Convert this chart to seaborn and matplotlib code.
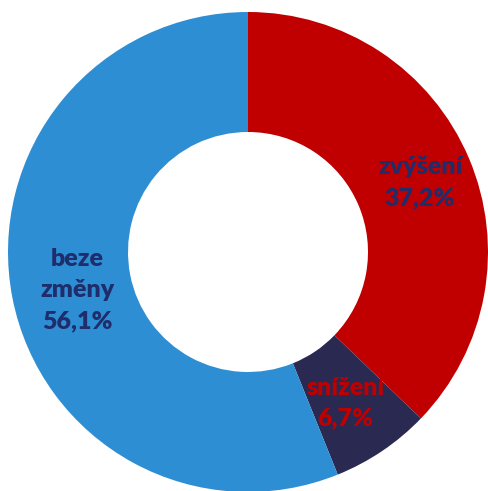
import matplotlib
matplotlib.use("Agg")
import matplotlib.pyplot as plt
import seaborn as sns

sns.set_theme(style="white")
plt.rcParams['font.family'] = ['Lato', 'DejaVu Sans']

categories = ["zvýšení", "snížení", "beze\nzměny"]
values = [37.2, 6.7, 56.1]
colors = ["#C00000", "#292952", "#2E8ED4"]
label_colors = ["#1F2D6B", "#C00000", "#1F2D6B"]
label_pos = [(0.717, 0.29), (0.405, -0.63), (-0.712, -0.158)]

fig = plt.figure(figsize=(4.88, 4.91), dpi=100)
ax = fig.add_axes([8 / 488, -1 / 491, 480 / 488, 480 / 491])

wedges, _ = ax.pie(values, colors=colors, startangle=90, counterclock=False,
                   radius=1.0, wedgeprops=dict(width=0.5, linewidth=0))

for cat, val, (x, y), c in zip(categories, values, label_pos, label_colors):
    txt = f"{cat}\n{val:.1f}%".replace(".", ",")
    ax.text(x, y, txt, ha="center", va="center", color=c, fontsize=18,
            fontweight="heavy", linespacing=1.5)

ax.set_xlim(-1, 1)
ax.set_ylim(-1, 1)
ax.set_aspect("equal")
ax.axis("off")

fig.savefig("out.png", dpi=100)
